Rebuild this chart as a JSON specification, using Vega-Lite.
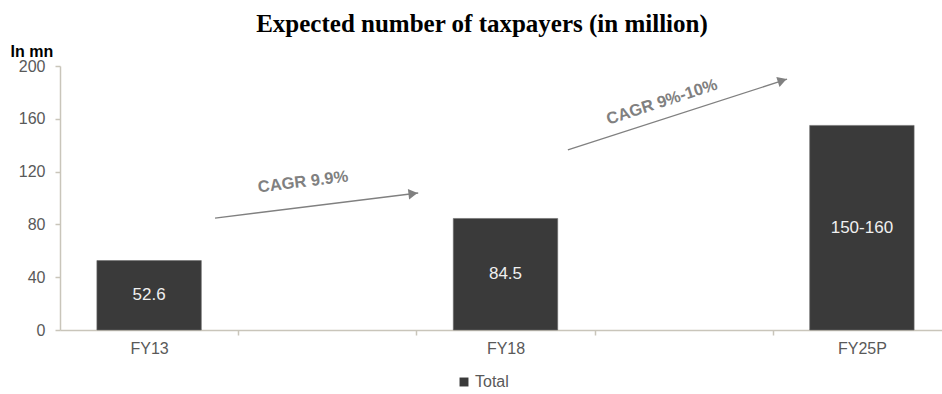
{
  "$schema": "https://vega.github.io/schema/vega-lite/v6.json",
  "width": 882,
  "height": 264,
  "autosize": {"type": "none"},
  "padding": {"left": 60, "top": 66, "right": 0, "bottom": 64},
  "background": "white",
  "title": {
    "text": "Expected number of taxpayers (in million)",
    "font": "Liberation Serif",
    "fontSize": 25,
    "fontWeight": "bold",
    "color": "#000000",
    "anchor": "middle",
    "frame": "group",
    "dx": -19,
    "offset": 6
  },
  "config": {
    "view": {"stroke": null},
    "font": "Liberation Sans"
  },
  "datasets": {
    "bars": [
      {"year": "FY13", "value": 52.6, "label": "52.6", "series": "Total"},
      {"year": "FY18", "value": 84.5, "label": "84.5", "series": "Total"},
      {"year": "FY25P", "value": 155, "label": "150-160", "series": "Total"}
    ],
    "arrows": [
      {"arrow": "a1", "pos": 0.87, "v": 84.8},
      {"arrow": "a1", "pos": 2.01, "v": 103.8},
      {"arrow": "a2", "pos": 2.85, "v": 136.4},
      {"arrow": "a2", "pos": 4.08, "v": 190}
    ],
    "heads": [
      {"arrow": "a1", "pos": 1.981, "v": 103.3},
      {"arrow": "a2", "pos": 4.053, "v": 189.0}
    ],
    "notes": [
      {"arrow": "a1", "pos": 1.364, "v": 112.1, "text": "CAGR 9.9%"},
      {"arrow": "a2", "pos": 3.378, "v": 172.7, "text": "CAGR 9%-10%"}
    ]
  },
  "layer": [
    {
      "data": {"name": "bars"},
      "encoding": {
        "x": {
          "field": "year",
          "type": "nominal",
          "scale": {"domain": ["FY13", "g1", "FY18", "g2", "FY25P"], "range": [0, 891], "paddingInner": 0.414, "paddingOuter": 0.207},
          "axis": {
            "title": null,
            "labelAngle": 0,
            "labelExpr": "datum.value == 'g1' || datum.value == 'g2' ? '' : datum.label",
            "labelFontSize": 16,
            "labelColor": "#595959",
            "labelPadding": 5,
            "domainColor": "#c9c5ba",
            "domainWidth": 1.5,
            "tickColor": "#c9c5ba",
            "tickWidth": 1.5,
            "tickSize": 5,
            "tickOffset": 89,
            "labelOffset": -89
          }
        }
      },
      "layer": [
        {
          "mark": {"type": "bar", "stroke": "#6b6b6b", "strokeWidth": 0.6},
          "encoding": {
            "y": {
              "field": "value",
              "type": "quantitative",
              "scale": {"domain": [0, 200], "nice": false},
              "axis": {
                "values": [0, 40, 80, 120, 160, 200],
                "grid": false,
                "title": "In mn",
                "titleAngle": 0,
                "titleX": -50,
                "titleY": -10,
                "titleAlign": "left",
                "titleBaseline": "alphabetic",
                "titleFontSize": 16,
                "titleFontWeight": "bold",
                "titleColor": "#000000",
                "labelFontSize": 16,
                "labelColor": "#595959",
                "labelPadding": 10,
                "domainColor": "#c9c5ba",
                "domainWidth": 1.5,
                "tickColor": "#c9c5ba",
                "tickWidth": 1.5,
                "tickSize": 5
              }
            },
            "color": {
              "field": "series",
              "type": "nominal",
              "scale": {"range": ["#3a3a3a"]},
              "legend": {
                "title": null,
                "orient": "none",
                "legendX": 396,
                "legendY": 308,
                "symbolType": "square",
                "symbolSize": 80,
                "symbolStrokeWidth": 0,
                "labelFontSize": 16,
                "labelColor": "#595959",
                "labelOffset": 3
              }
            }
          }
        },
        {
          "transform": [{"calculate": "datum.value / 2", "as": "mid"}],
          "mark": {"type": "text", "color": "#f0f0f0", "fontSize": 17, "baseline": "middle", "align": "center"},
          "encoding": {
            "y": {"field": "mid", "type": "quantitative"},
            "text": {"field": "label"}
          }
        }
      ]
    },
    {
      "encoding": {
        "x": {"field": "pos", "type": "quantitative", "scale": {"domain": [0, 5], "range": [0, 891], "nice": false, "zero": false}, "axis": null},
        "y": {"field": "v", "type": "quantitative"}
      },
      "layer": [
        {
          "data": {"name": "arrows"},
          "mark": {"type": "line", "color": "#808080", "strokeWidth": 1.3},
          "encoding": {"detail": {"field": "arrow"}}
        },
        {
          "data": {"name": "heads"},
          "transform": [{"filter": "datum.arrow == 'a1'"}],
          "mark": {"type": "point", "shape": "triangle-right", "filled": true, "color": "#808080", "size": 110, "angle": 353, "opacity": 1},
          "encoding": {}
        },
        {
          "data": {"name": "heads"},
          "transform": [{"filter": "datum.arrow == 'a2'"}],
          "mark": {"type": "point", "shape": "triangle-right", "filled": true, "color": "#808080", "size": 110, "angle": 342, "opacity": 1},
          "encoding": {}
        },
        {
          "data": {"name": "notes"},
          "transform": [{"filter": "datum.arrow == 'a1'"}],
          "mark": {"type": "text", "color": "#808080", "fontSize": 16.5, "fontWeight": "bold", "angle": 353, "align": "center", "baseline": "middle"},
          "encoding": {"text": {"field": "text"}}
        },
        {
          "data": {"name": "notes"},
          "transform": [{"filter": "datum.arrow == 'a2'"}],
          "mark": {"type": "text", "color": "#808080", "fontSize": 16.5, "fontWeight": "bold", "angle": 342, "align": "center", "baseline": "middle"},
          "encoding": {"text": {"field": "text"}}
        }
      ]
    }
  ],
  "resolve": {"scale": {"x": "independent"}}
}
